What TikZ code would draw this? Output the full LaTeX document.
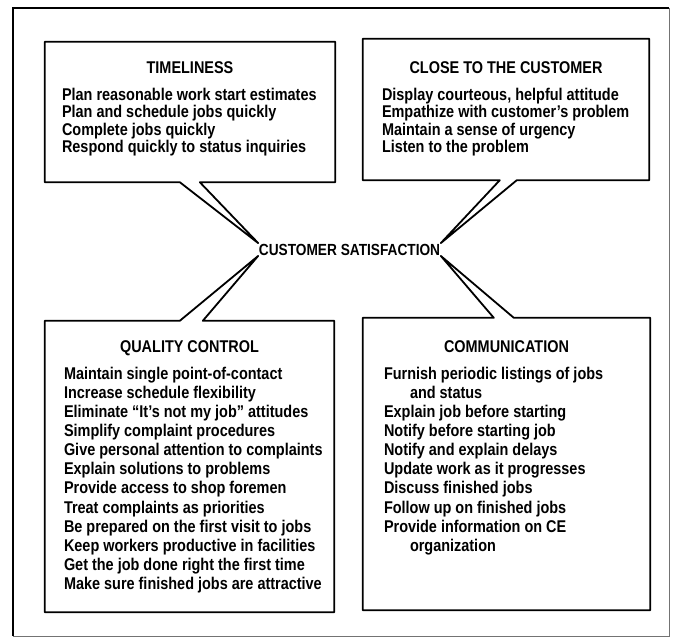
\documentclass[tikz,border=0pt]{standalone}
\usepackage{fontspec}
\setmainfont{Liberation Sans}[FakeStretch=0.85]
\usetikzlibrary{positioning}
\tikzset{
  box/.style={inner sep=0pt},
  title/.style={font=\bfseries\fontsize{17}{18}\selectfont, inner sep=0pt},
  items/.style={font=\bfseries\fontsize{17}{#1}\selectfont, align=left, anchor=north west, inner sep=0pt},
  rim/.style={line width=1.8pt, line join=round},
}
\begin{document}
\begin{tikzpicture}[x=1pt, y=-1pt]
\useasboundingbox (0,0) rectangle (677,642);
\draw[line width=.6pt, black!55] (669,8) -- (669,636) -- (13,636);
\draw[line width=2.6pt] (13,636) -- (13,8) -- (669,8);

\node[font=\bfseries\fontsize{16.1}{17}\selectfont, inner sep=.5pt](cs) at (349.5,249.5) {CUSTOMER SATISFACTION};

\node[box, minimum width=290pt, minimum height=140pt](tl) at (190,112) {};
\node[box, minimum width=286pt, minimum height=141pt](tr) at (506,109.5) {};
\node[box, minimum width=289pt, minimum height=291pt](bl) at (189.5,466.5) {};
\node[box, minimum width=287pt, minimum height=292pt](br) at (506.5,464) {};

\node[title, below=20pt of tl.north](tlt) {TIMELINESS};
\node[title, below=23pt of tr.north](trt) {CLOSE TO THE CUSTOMER};
\node[title, below=20pt of bl.north](blt) {QUALITY CONTROL};
\node[title, below=23pt of br.north](brt) {COMMUNICATION};

\node[items=17.4](tli) at ([shift={(17,46)}]tl.north west) {Plan reasonable work start estimates\\
Plan and schedule jobs quickly\\
Complete jobs quickly\\
Respond quickly to status inquiries};
\node[items=17.4](tri) at ([shift={(19,49)}]tr.north west) {Display courteous, helpful attitude\\
Empathize with customer’s problem\\
Maintain a sense of urgency\\
Listen to the problem};
\node[items=19.1](bli) at ([shift={(19,46)}]bl.north west) {Maintain single point-of-contact\\
Increase schedule flexibility\\
Eliminate “It’s not my job” attitudes\\
Simplify complaint procedures\\
Give personal attention to complaints\\
Explain solutions to problems\\
Provide access to shop foremen\\
Treat complaints as priorities\\
Be prepared on the first visit to jobs\\
Keep workers productive in facilities\\
Get the job done right the first time\\
Make sure finished jobs are attractive};
\node[items=19.1](bri) at ([shift={(21,49)}]br.north west) {Furnish periodic listings of jobs\\
\hspace*{26pt}and status\\
Explain job before starting\\
Notify before starting job\\
Notify and explain delays\\
Update work as it progresses\\
Discuss finished jobs\\
Follow up on finished jobs\\
Provide information on CE\\
\hspace*{26pt}organization};

\draw[rim] (tl.south west) -- ([xshift=135pt]tl.south west) -- (cs.north west) -- ([xshift=155pt]tl.south west) -- (tl.south east) |- (tl.north west) -- cycle;
\draw[rim] (tr.south west) -- ([xshift=137pt]tr.south west) -- (cs.north east) -- ([xshift=154pt]tr.south west) -- (tr.south east) |- (tr.north west) -- cycle;
\draw[rim] (bl.north west) -- ([xshift=135pt]bl.north west) -- (cs.south west) -- ([xshift=158pt]bl.north west) -- (bl.north east) |- (bl.south west) -- cycle;
\draw[rim] (br.north west) -- ([xshift=131pt]br.north west) -- (cs.south east) -- ([xshift=151pt]br.north west) -- (br.north east) |- (br.south west) -- cycle;
\end{tikzpicture}
\end{document}
